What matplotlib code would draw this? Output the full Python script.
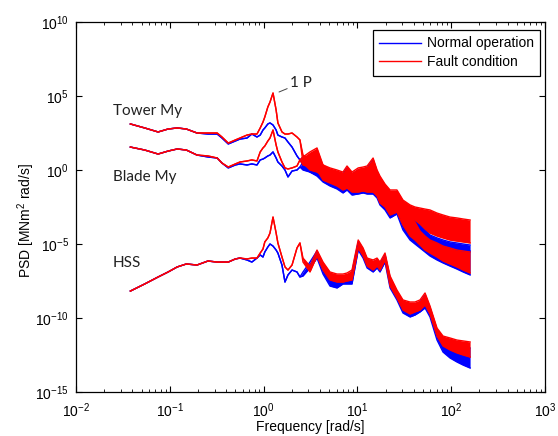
import numpy as np
import matplotlib
matplotlib.use("Agg")
import matplotlib.pyplot as plt
from matplotlib.ticker import FixedLocator, LogLocator, NullLocator, LogFormatterSciNotation

plt.rcParams['font.family'] = ['Liberation Sans', 'DejaVu Sans']
plt.rcParams['mathtext.default'] = 'regular'

# frequencies [rad/s], smooth low part and noisy high part
freq_low = [0.038, 0.054, 0.075, 0.096, 0.12, 0.15, 0.195, 0.255, 0.32, 0.36,
            0.42, 0.50, 0.56, 0.665, 0.75, 0.85, 0.92, 0.985, 1.03, 1.11,
            1.17, 1.26, 1.36, 1.42, 1.57, 1.69, 1.82, 2.01, 2.27, 2.44]
freq_high = [2.63, 3.12, 3.71, 4.30, 5.10, 6.06, 7.02, 7.75, 8.76, 10.2,
             11.5, 12.7, 14.7, 16.2, 17.4, 19.7, 22.3, 26.4, 30.6, 36.4,
             41.1, 46.5, 52.6, 59.4, 70.6, 81.8, 97.1, 115, 134, 159]

# log10 PSD, low part (single line)
tower_normal_low = [3.11, 2.84, 2.57, 2.77, 2.84, 2.77, 2.50, 2.43, 2.43, 2.16,
                    1.76, 1.96, 2.09, 2.16, 2.43, 2.23, 2.36, 2.70, 2.84, 3.11,
                    3.18, 3.04, 2.70, 2.36, 2.23, 2.16, 1.89, 1.55, 0.95, 0.68]
tower_fault_low = [3.11, 2.84, 2.57, 2.77, 2.84, 2.77, 2.50, 2.50, 2.50, 2.23,
                   1.82, 2.03, 2.16, 2.36, 2.43, 2.43, 2.84, 3.24, 3.58, 4.26,
                   4.59, 5.20, 4.05, 3.18, 2.57, 2.43, 2.43, 2.50, 2.23, 2.03]
blade_normal_low = [1.55, 1.35, 1.08, 1.28, 1.42, 1.35, 1.01, 0.88, 0.81, 0.47,
                    0.14, 0.34, 0.41, 0.34, 0.41, 0.34, 0.68, 0.74, 0.81, 0.95,
                    1.01, 1.22, 0.81, 0.54, 0.27, 0.00, -0.47, -0.07, 0.00, 0.20]
blade_fault_low = [1.55, 1.35, 1.08, 1.28, 1.42, 1.35, 1.01, 0.95, 0.81, 0.47,
                   0.20, 0.41, 0.54, 0.61, 0.68, 0.61, 1.22, 1.49, 1.62, 1.96,
                   2.16, 2.70, 1.69, 1.22, 0.54, 0.14, 0.07, 0.14, 0.27, 0.68]
hss_normal_low = [-8.18, -7.70, -7.23, -6.89, -6.55, -6.35, -6.42, -6.15, -6.22, -6.22,
                  -6.22, -6.01, -5.95, -6.08, -6.22, -5.95, -5.74, -5.88, -5.54, -5.20,
                  -5.00, -5.14, -5.41, -5.61, -6.42, -7.57, -7.09, -6.76, -6.89, -7.23]
hss_fault_low = [-8.18, -7.70, -7.23, -6.89, -6.55, -6.35, -6.42, -6.15, -6.22, -6.22,
                 -6.22, -6.01, -5.95, -6.01, -5.95, -5.95, -5.61, -5.34, -4.86, -4.59,
                 -4.26, -3.18, -4.26, -4.93, -5.88, -6.55, -6.76, -6.42, -5.27, -4.93]

# log10 PSD, high part (upper / lower edge of the noise band)
tower_normal_top = [0.88, 0.54, 0.54, 0.20, 0.00, -0.14, -0.27, 0.14, -0.27, 0.00,
                    0.07, 0.14, 0.68, -0.14, -0.54, -1.08, -1.49, -1.49, -2.23, -2.84,
                    -3.24, -3.65, -3.99, -4.39, -4.59, -4.73, -4.86, -4.93, -5.00, -5.07]
tower_normal_bot = [0.34, -0.14, -0.34, -0.54, -0.81, -0.95, -1.15, -0.95, -1.35, -1.22,
                    -1.15, -1.22, -1.01, -1.35, -1.89, -2.36, -2.91, -2.70, -3.51, -4.05,
                    -4.32, -4.53, -4.66, -4.73, -4.93, -5.07, -5.20, -5.34, -5.41, -5.47]
tower_fault_top = [1.01, 0.68, 0.81, 0.34, 0.14, 0.00, -0.14, 0.27, -0.14, 0.14,
                   0.20, 0.27, 0.81, 0.00, -0.41, -0.95, -1.35, -1.35, -2.03, -2.36,
                   -2.50, -2.57, -2.64, -2.70, -2.91, -3.04, -3.18, -3.24, -3.31, -3.38]
tower_fault_bot = [0.47, 0.00, -0.14, -0.41, -0.68, -0.81, -1.01, -0.81, -1.22, -1.08,
                   -1.01, -1.08, -0.81, -1.22, -1.69, -2.16, -2.70, -2.57, -3.04, -3.24,
                   -3.38, -3.65, -3.99, -4.26, -4.46, -4.59, -4.73, -4.80, -4.86, -4.93]
blade_normal_top = [0.54, 0.68, 0.81, 0.14, -0.14, -0.34, -0.54, -0.41, -0.81, -0.61,
                    -0.54, -0.54, -0.27, -0.81, -1.22, -1.49, -1.89, -1.89, -2.70, -3.38,
                    -3.78, -4.19, -4.46, -4.73, -4.93, -5.14, -5.27, -5.41, -5.47, -5.54]
blade_normal_bot = [0.00, -0.14, -0.41, -0.81, -1.08, -1.28, -1.55, -1.35, -1.69, -1.62,
                    -1.55, -1.62, -1.62, -1.89, -2.36, -2.70, -3.24, -2.97, -4.05, -4.73,
                    -5.00, -5.27, -5.54, -5.81, -6.08, -6.28, -6.49, -6.69, -6.89, -7.09]
blade_fault_top = [0.88, 1.22, 1.49, 0.34, 0.00, -0.20, -0.34, -0.27, -0.68, -0.47,
                   -0.41, -0.41, -0.14, -0.68, -1.08, -1.35, -1.76, -1.76, -2.36, -3.04,
                   -3.51, -4.12, -4.46, -4.73, -4.93, -5.14, -5.27, -5.41, -5.47, -5.54]
blade_fault_bot = [0.34, 0.20, 0.00, -0.68, -0.88, -1.08, -1.35, -1.22, -1.49, -1.49,
                   -1.42, -1.49, -1.49, -1.76, -2.23, -2.50, -3.04, -2.84, -3.72, -4.46,
                   -4.73, -5.07, -5.41, -5.61, -5.88, -6.15, -6.35, -6.55, -6.76, -6.96]
hss_normal_top = [-6.89, -6.22, -5.47, -6.49, -7.16, -7.30, -7.16, -7.16, -6.89, -4.86,
                  -5.41, -6.08, -6.22, -6.08, -6.35, -5.74, -7.30, -8.24, -8.92, -9.05,
                  -9.05, -8.92, -8.45, -9.32, -10.81, -11.49, -11.76, -11.89, -11.96, -12.03]
hss_normal_bot = [-7.16, -6.62, -5.95, -7.03, -7.84, -7.97, -7.70, -7.70, -7.70, -5.41,
                  -5.95, -6.62, -6.89, -6.62, -6.89, -6.22, -7.97, -8.78, -9.66, -9.93,
                  -9.80, -9.59, -9.32, -9.93, -11.49, -12.30, -12.70, -12.97, -13.18, -13.38]
hss_fault_top = [-5.95, -6.49, -5.41, -6.22, -6.89, -7.03, -7.03, -6.96, -6.76, -4.73,
                 -5.27, -5.95, -6.08, -5.95, -6.22, -5.61, -7.16, -8.11, -8.78, -8.92,
                 -8.92, -8.78, -8.31, -9.19, -10.68, -11.22, -11.35, -11.49, -11.55, -11.62]
hss_fault_bot = [-6.22, -6.89, -5.81, -6.76, -7.43, -7.57, -7.57, -7.50, -7.43, -5.27,
                 -5.81, -6.49, -6.76, -6.49, -6.76, -6.08, -7.84, -8.65, -9.46, -9.73,
                 -9.59, -9.46, -9.12, -9.73, -11.22, -11.89, -12.16, -12.36, -12.50, -12.64]

BLUE = '#0000ff'
RED = '#ff0000'


def draw_series(ax, low, top, bot, color, z, label=None):
    f = np.array(freq_low + freq_high)
    upper = 10.0 ** np.array(low + top)
    lower = 10.0 ** np.array(low + bot)
    ax.fill_between(f, lower, upper, color=color, lw=0, zorder=z)
    ax.plot(f, upper, color=color, lw=1.0, label=label, zorder=z)
    ax.plot(f, lower, color=color, lw=1.0, zorder=z)


fig = plt.figure(figsize=(5.58, 4.36), dpi=100)
ax = fig.add_axes([76 / 558, 1 - 392 / 436, 469 / 558, 370 / 436])
ax.set_xscale('log')
ax.set_yscale('log')

draw_series(ax, tower_normal_low, tower_normal_top, tower_normal_bot, BLUE, 2, 'Normal operation')
draw_series(ax, blade_normal_low, blade_normal_top, blade_normal_bot, BLUE, 2)
draw_series(ax, hss_normal_low, hss_normal_top, hss_normal_bot, BLUE, 2)
draw_series(ax, tower_fault_low, tower_fault_top, tower_fault_bot, RED, 3, 'Fault condition')
draw_series(ax, blade_fault_low, blade_fault_top, blade_fault_bot, RED, 3)
draw_series(ax, hss_fault_low, hss_fault_top, hss_fault_bot, RED, 3)

ax.set_xlim(1e-2, 1e3)
ax.set_ylim(1e-15, 1e10)

ax.xaxis.set_major_locator(LogLocator(base=10, numticks=10))
ax.xaxis.set_minor_locator(LogLocator(base=10, subs=np.arange(2, 10), numticks=20))
ax.yaxis.set_major_locator(FixedLocator([1e-15, 1e-10, 1e-5, 1e0, 1e5, 1e10]))
ax.yaxis.set_major_formatter(LogFormatterSciNotation())
ax.yaxis.set_minor_locator(NullLocator())
ax.tick_params(which='both', direction='in', top=True, right=True, labelsize=10)
ax.tick_params(which='major', length=4, width=0.8)
ax.tick_params(which='minor', length=2.5, width=0.6)
ax.tick_params(axis='x', which='major', pad=7)
ax.tick_params(axis='y', which='major', pad=5)
for s in ax.spines.values():
    s.set_linewidth(0.9)

ax.set_xlabel('Frequency [rad/s]', fontsize=10)
ax.set_ylabel('PSD [MNm$^2$ rad/s]', fontsize=10)
ax.xaxis.set_label_coords(0.5, -0.075)
ax.yaxis.set_label_coords(-0.083, 0.462)

# curve names
lab_font = dict(family=['Lato', 'DejaVu Sans'], fontsize=11, color='#222222', va='center')
ax.text(0.0248, 10 ** 3.99, 'Tower My', **lab_font)
ax.text(0.0248, 10 ** -0.47, 'Blade My', **lab_font)
ax.text(0.0248, 10 ** -6.28, 'HSS', **lab_font)
ax.annotate('1 P', xy=(1.46, 10 ** 5.27), xytext=(1.91, 10 ** 5.88),
            fontsize=11, family=['Lato', 'DejaVu Sans'], color='#222222', va='center',
            arrowprops=dict(arrowstyle='-', color='#444444', lw=0.7, shrinkA=0, shrinkB=0))

leg = ax.legend(loc='upper right', bbox_to_anchor=(0.989, 0.978), borderaxespad=0,
                fancybox=False, edgecolor='black', framealpha=1, fontsize=10,
                handlelength=3.0, handletextpad=0.4, labelspacing=0.35, borderpad=0.45)
leg.get_frame().set_linewidth(0.9)
leg.set_zorder(10)

fig.savefig('out.png', dpi=100)
